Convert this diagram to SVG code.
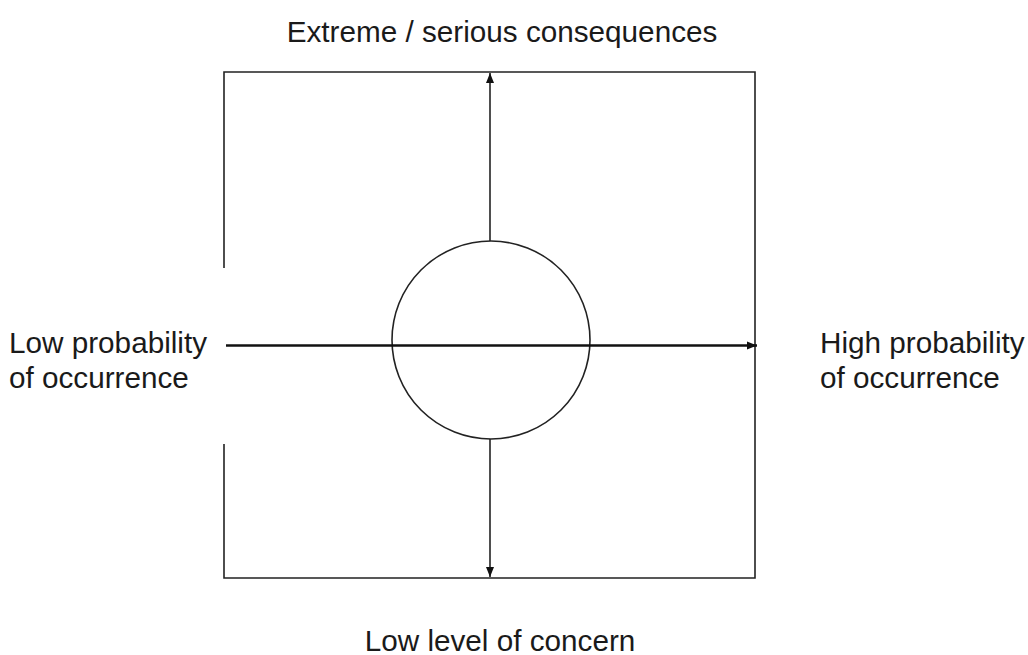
<svg xmlns="http://www.w3.org/2000/svg" width="1028" height="655" viewBox="0 0 1028 655">
<style>
.lbl{font-family:"Liberation Sans",Arial,sans-serif;font-size:29.7px;fill:#1a1a1a}
.box{fill:none;stroke:#222;stroke-width:1.6}
.ax{fill:none;stroke:#222;stroke-width:1.6}
.hx{fill:none;stroke:#111;stroke-width:2.6}
</style>
<defs>
<marker id="ah" viewBox="0 0 10 10" refX="10" refY="5" markerWidth="10" markerHeight="10" markerUnits="userSpaceOnUse" orient="auto">
<path d="M0,1 L10,5 L0,9 Z" fill="#111"/>
</marker>
</defs>
<rect width="1028" height="655" fill="#fff"/>
<g id="frame">
<path class="box" d="M224,268 V72 H755 V578 H224 V444"/>
</g>
<g id="center-circle">
<circle cx="491" cy="340" r="99" fill="none" stroke="#222" stroke-width="1.6"/>
</g>
<g id="connectors">
<line class="ax" x1="490" y1="241" x2="490" y2="73" marker-end="url(#ah)"/>
<line class="ax" x1="490" y1="439" x2="490" y2="577" marker-end="url(#ah)"/>
<line class="hx" x1="226" y1="345.5" x2="757" y2="345.5" marker-end="url(#ah)"/>
</g>
<g id="label-top"><text class="lbl" x="502" y="42" text-anchor="middle">Extreme / serious consequences</text></g>
<g id="label-left"><text class="lbl" x="9" y="353">Low probability</text><text class="lbl" x="9" y="388">of occurrence</text></g>
<g id="label-right"><text class="lbl" x="820" y="353">High probability</text><text class="lbl" x="820" y="388">of occurrence</text></g>
<g id="label-bottom"><text class="lbl" x="500" y="651" text-anchor="middle">Low level of concern</text></g>
</svg>
